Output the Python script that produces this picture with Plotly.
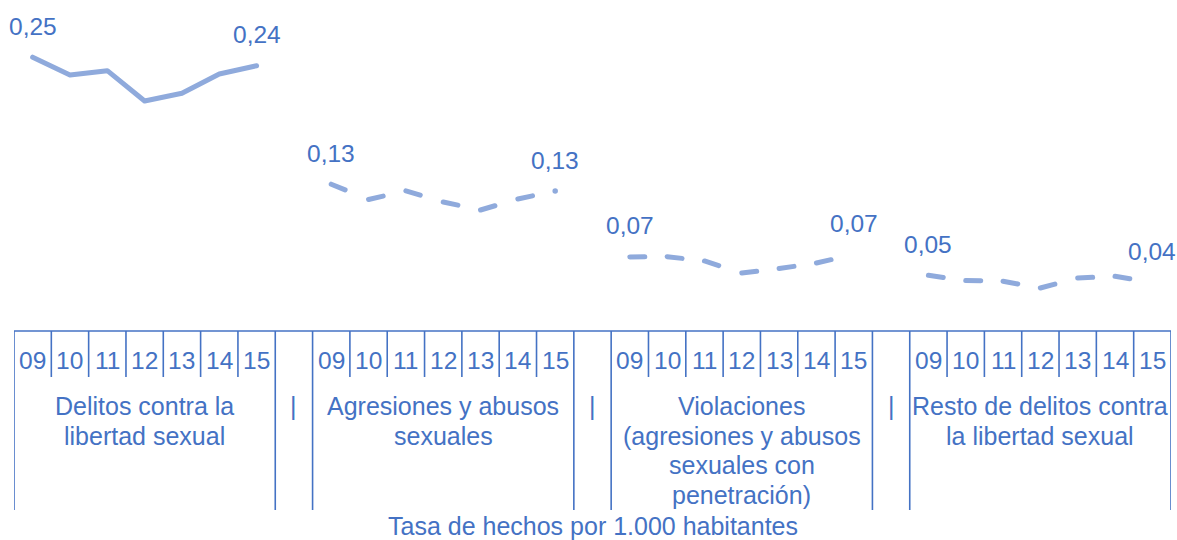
import plotly.graph_objects as go

# ---------------- data ----------------
years = ["09", "10", "11", "12", "13", "14", "15"]
groups = [
    "Delitos contra la<br>libertad sexual",
    "Agresiones y abusos<br>sexuales",
    "Violaciones<br>(agresiones y abusos<br>sexuales con<br>penetración)",
    "Resto de delitos contra<br>la libertad sexual",
]
separator = "|"
axis_title = "Tasa de hechos por 1.000 habitantes"

delitos = [0.2502, 0.2337, 0.2377, 0.2096, 0.2168, 0.2346, 0.2423]
agresiones = [0.1326, 0.1184, 0.1265, 0.1161, 0.1087, 0.1189, 0.1263]
violaciones = [0.0652, 0.0655, 0.0615, 0.0504, 0.0545, 0.0596, 0.0675]
resto = [0.0482, 0.0434, 0.0427, 0.0365, 0.0457, 0.0473, 0.0415]
series = [delitos, agresiones, violaciones, resto]

# ---------------- style ----------------
W, H = 1177, 540
TEXT = "#4472C4"
LINE = "#8FAADC"
FONT = "Liberation Sans, Arial, sans-serif"
Y0_PX, K = 327.4, 1080.0          # pixel of value 0, pixels per unit
Y_TOP = Y0_PX / K
Y_BOT = (Y0_PX - H) / K
SLOTS_PER_GROUP = 8               # 7 years + 1 separator slot
N_SLOTS = SLOTS_PER_GROUP * len(groups) - 1


def py(px):
    return 1 - px / H


def fmt(v):
    return f"{v:.2f}".replace(".", ",")


fig = go.Figure()

for g, vals in enumerate(series):
    xs = [g * SLOTS_PER_GROUP + i for i in range(len(years))]
    if g == 0:
        fig.add_trace(go.Scatter(x=xs, y=vals, mode="lines",
                                 line=dict(color=LINE, width=5),
                                 hoverinfo="skip", showlegend=False))
    else:
        sx, sy = [], []
        for i in range(len(vals) - 1):
            sx += [xs[i], xs[i + 1], None]
            sy += [vals[i], vals[i + 1], None]
        fig.add_trace(go.Scatter(x=sx, y=sy, mode="lines",
                                 line=dict(color=LINE, width=5, dash="15px,300px"),
                                 hoverinfo="skip", showlegend=False))
        if g == 1:
            fig.add_trace(go.Scatter(x=[xs[-1]], y=[vals[-1]], mode="markers",
                                     marker=dict(color=LINE, size=5.5),
                                     hoverinfo="skip", showlegend=False))
    # value labels at first and last point
    for i in (0, len(vals) - 1):
        fig.add_annotation(x=xs[i], y=vals[i], xref="x", yref="y",
                           text=fmt(vals[i]), showarrow=False,
                           yshift=31, yanchor="middle", xanchor="center",
                           font=dict(family=FONT, size=24.5, color=TEXT))

shapes = []
lc = dict(color=TEXT, width=1.6)
shapes.append(dict(type="line", xref="x", yref="paper", x0=-0.5, x1=N_SLOTS - 0.5,
                   y0=py(331), y1=py(331), line=lc))
for g, name in enumerate(groups):
    start = g * SLOTS_PER_GROUP
    for b in range(start, start + len(years) + 1):
        long_ = b in (start, start + len(years))
        shapes.append(dict(type="line", xref="x", yref="paper",
                           x0=b - 0.5, x1=b - 0.5, y0=py(331),
                           y1=py(510) if long_ else py(377), line=lc))
    for i, yr in enumerate(years):
        fig.add_annotation(x=start + i, y=py(360.5), xref="x", yref="paper",
                           text=yr, showarrow=False, yanchor="middle",
                           font=dict(family=FONT, size=24.5, color=TEXT))
    for j, line in enumerate(name.split("<br>")):
        fig.add_annotation(x=start + (len(years) - 1) / 2, y=py(406 + 29.6 * j),
                           xref="x", yref="paper", text=line, showarrow=False,
                           yanchor="middle",
                           font=dict(family=FONT, size=25, color=TEXT))
    if g < len(groups) - 1:
        fig.add_annotation(x=start + len(years), y=py(406), xref="x", yref="paper",
                           text=separator, showarrow=False, yanchor="middle",
                           font=dict(family=FONT, size=25, color=TEXT))

fig.add_annotation(x=(N_SLOTS - 1) / 2, y=py(526), xref="x", yref="paper",
                   text=axis_title, showarrow=False, yanchor="middle",
                   font=dict(family=FONT, size=25, color=TEXT))

fig.update_layout(
    width=W, height=H,
    margin=dict(l=14, r=6, t=0, b=0),
    paper_bgcolor="white", plot_bgcolor="white",
    shapes=shapes,
    xaxis=dict(range=[-0.5, N_SLOTS - 0.5], visible=False, fixedrange=True),
    yaxis=dict(range=[Y_BOT, Y_TOP], visible=False, fixedrange=True),
)

post = ("document.body.style.margin='0';document.body.style.overflow='hidden';"
        "document.querySelectorAll('.scatterlayer .js-line').forEach(function(p){"
        "p.style.strokeLinecap='round';p.style.strokeLinejoin='round';});")
fig.write_html("out.html", post_script=post, config={"displayModeBar": False})
